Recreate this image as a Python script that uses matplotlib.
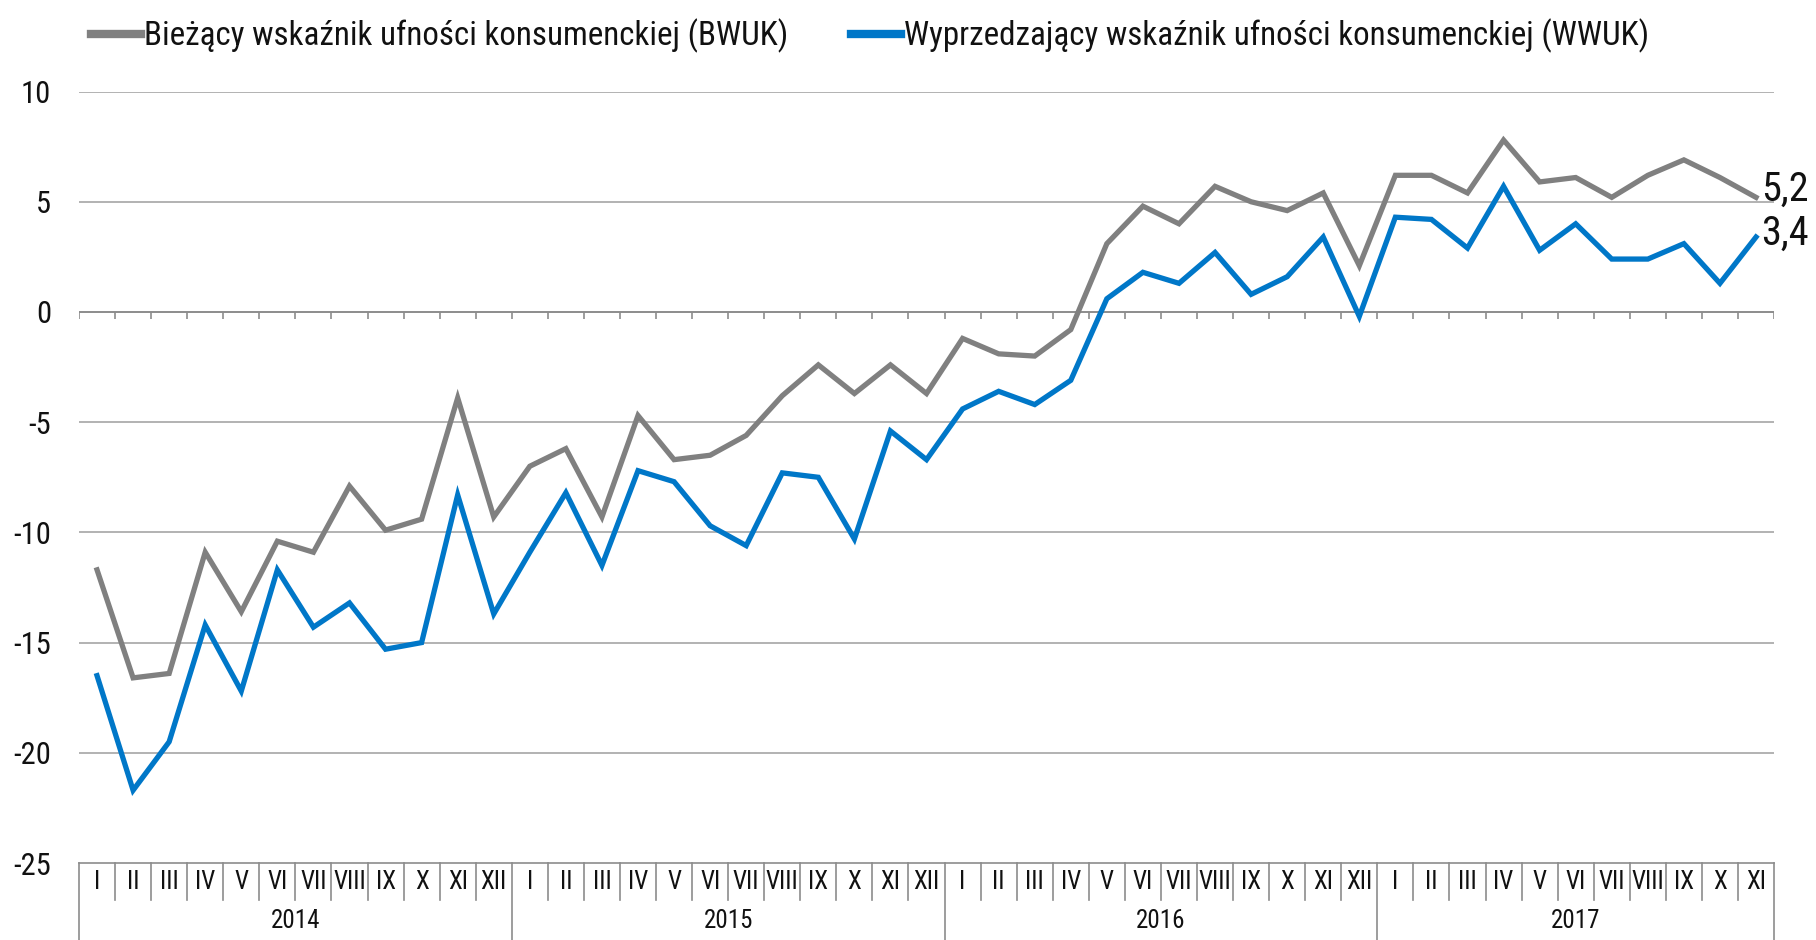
import matplotlib
matplotlib.use("Agg")
import matplotlib.pyplot as plt
from matplotlib.lines import Line2D
from matplotlib import font_manager as fm

# ---- data ----
years = ["2014", "2015", "2016", "2017"]
months_roman = ["I", "II", "III", "IV", "V", "VI", "VII", "VIII", "IX", "X", "XI", "XII"]
month_labels = months_roman * 3 + months_roman[:11]

bwuk = [-11.7, -16.6, -16.4, -10.9, -13.6, -10.4, -10.9, -7.9, -9.9, -9.4, -3.9, -9.3,
        -7.0, -6.2, -9.3, -4.7, -6.7, -6.5, -5.6, -3.8, -2.4, -3.7, -2.4, -3.7,
        -1.2, -1.9, -2.0, -0.8, 3.1, 4.8, 4.0, 5.7, 5.0, 4.6, 5.4, 2.1,
        6.2, 6.2, 5.4, 7.8, 5.9, 6.1, 5.2, 6.2, 6.9, 6.1, 5.2]
wwuk = [-16.5, -21.7, -19.5, -14.2, -17.2, -11.7, -14.3, -13.2, -15.3, -15.0, -8.3, -13.7,
        -10.9, -8.2, -11.5, -7.2, -7.7, -9.7, -10.6, -7.3, -7.5, -10.3, -5.4, -6.7,
        -4.4, -3.6, -4.2, -3.1, 0.6, 1.8, 1.3, 2.7, 0.8, 1.6, 3.4, -0.2,
        4.3, 4.2, 2.9, 5.7, 2.8, 4.0, 2.4, 2.4, 3.1, 1.3, 3.4]
series_names = ["Bieżący wskaźnik ufności konsumenckiej (BWUK)",
                "Wyprzedzający wskaźnik ufności konsumenckiej (WWUK)"]
yticks = [10, 5, 0, -5, -10, -15, -20, -25]
gridvals = [10, 5, -5, -10, -15, -20]

# ---- font ----
names = {f.name for f in fm.fontManager.ttflist}
family = ["DejaVu Sans"]
stretch = "normal"
for cand in ["Liberation Sans Narrow", "Roboto Condensed", "Open Sans Condensed",
             "DejaVu Sans Condensed"]:
    if cand in names:
        family = [cand, "DejaVu Sans"]
        break
else:
    for f in fm.fontManager.ttflist:
        if f.name == "DejaVu Sans" and str(f.stretch) in ("condensed", "semi-condensed"):
            stretch = "condensed"
            break
plt.rcParams["font.family"] = family
plt.rcParams["font.stretch"] = stretch

GRAY = "#808080"
BLUE = "#0077C8"
TXT = "#111111"

fig = plt.figure(figsize=(18.16, 9.40), dpi=100)
ax = fig.add_axes([0.0435, 0.0819, 0.9334, 0.8207])

x = list(range(len(bwuk)))
ax.plot(x, bwuk, color=GRAY, lw=3.8, solid_joinstyle="miter", zorder=3)
ax.plot(x, wwuk, color=BLUE, lw=3.8, solid_joinstyle="miter", zorder=4)

n = len(bwuk)
ax.set_xlim(-0.5, n - 0.5)
ax.set_ylim(-25, 10)

for g in gridvals:
    ax.axhline(g, color="#a6a6a6", lw=1.2, zorder=1)
ax.axhline(0, color="#8c8c8c", lw=1.4, zorder=2)
tick_len = 0.33
ax.vlines([i - 0.5 for i in range(n + 1)], -tick_len, 0, color="#8c8c8c", lw=1.2, zorder=2)

for s in ["top", "right", "left"]:
    ax.spines[s].set_visible(False)
ax.spines["bottom"].set_color("#8c8c8c")
ax.spines["bottom"].set_linewidth(1.2)

ax.set_yticks(yticks)
ax.set_yticklabels([str(v) for v in yticks], color=TXT)
ax.tick_params(axis="y", length=0, pad=20, labelsize=22)
ax.set_xticks([])

# multi-level category axis
tr = ax.get_xaxis_transform()
for i in range(n + 1):
    is_year = (i % 12 == 0) or i == n
    y0 = -0.1 if is_year else -0.048
    ax.add_line(Line2D([i - 0.5, i - 0.5], [0, y0], transform=tr, color="#8c8c8c",
                       lw=1.2, clip_on=False))
for i, lab in enumerate(month_labels):
    ax.text(i, -0.025, lab, transform=tr, ha="center", va="center", fontsize=18,
            color=TXT, clip_on=False)
for k, yr in enumerate(years):
    start = k * 12
    end = min(start + 12, n)
    ax.text((start + end - 1) / 2, -0.075, yr, transform=tr, ha="center", va="center",
            fontsize=18, color=TXT, clip_on=False)

# end labels
ax.annotate(f"{bwuk[-1]:.1f}".replace(".", ","), (n - 1, bwuk[-1]), xytext=(4, 6),
            textcoords="offset points", ha="left", va="center", fontsize=29,
            color=TXT, annotation_clip=False)
ax.annotate(f"{wwuk[-1]:.1f}".replace(".", ","), (n - 1, wwuk[-1]), xytext=(4, 3),
            textcoords="offset points", ha="left", va="center", fontsize=29,
            color=TXT, annotation_clip=False)

handles = [Line2D([], [], color=GRAY, lw=6), Line2D([], [], color=BLUE, lw=6)]
fig.legend(handles, series_names, loc="upper left", bbox_to_anchor=(0.034, 1.012), ncol=2,
           frameon=False, fontsize=23.8, handlelength=1.5, handletextpad=0.1,
           columnspacing=1.9, labelcolor=TXT)

fig.savefig("out.png", dpi=100)
